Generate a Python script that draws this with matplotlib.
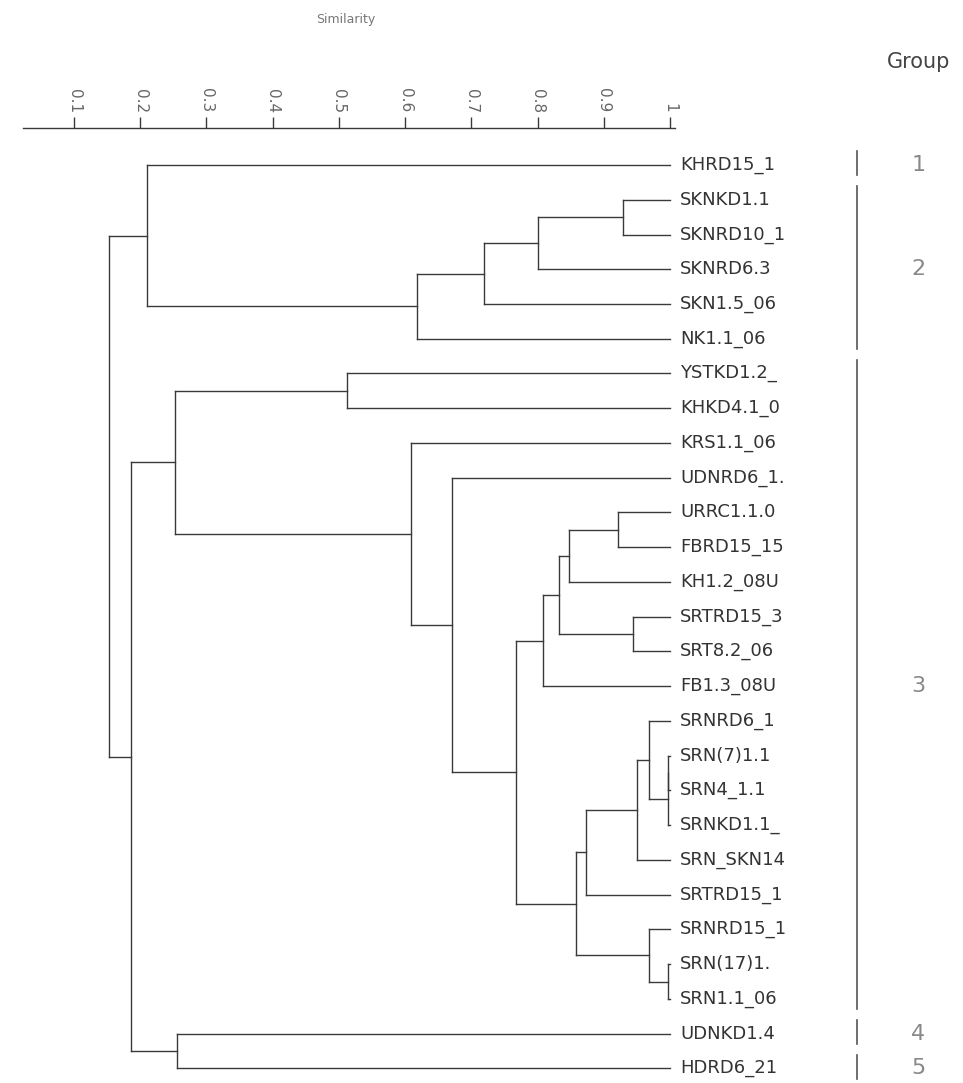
import matplotlib
matplotlib.use("Agg")
import matplotlib.pyplot as plt

# leaves, top to bottom
leaves = ["KHRD15_1", "SKNKD1.1", "SKNRD10_1", "SKNRD6.3", "SKN1.5_06", "NK1.1_06",
          "YSTKD1.2_", "KHKD4.1_0", "KRS1.1_06", "UDNRD6_1.", "URRC1.1.0", "FBRD15_15",
          "KH1.2_08U", "SRTRD15_3", "SRT8.2_06", "FB1.3_08U", "SRNRD6_1", "SRN(7)1.1",
          "SRN4_1.1", "SRNKD1.1_", "SRN_SKN14", "SRTRD15_1", "SRNRD15_1", "SRN(17)1.",
          "SRN1.1_06", "UDNKD1.4", "HDRD6_21"]

# merges: new node, left child, right child, similarity
merge_node = ["A", "B", "C", "D", "E", "F", "N", "M", "O", "L", "J", "R1", "R", "S",
              "Q", "P", "U", "T", "K", "I", "H", "G", "G3", "G45", "V", "root"]
merge_left = ["SKNKD1.1", "A", "B", "C", "KHRD15_1", "YSTKD1.2_", "URRC1.1.0", "N",
              "SRTRD15_3", "M", "L", "SRN(7)1.1", "R1", "SRNRD6_1", "S", "Q",
              "SRN(17)1.", "SRNRD15_1", "P", "J", "UDNRD6_1.", "KRS1.1_06", "F",
              "UDNKD1.4", "G3", "E"]
merge_right = ["SKNRD10_1", "SKNRD6.3", "SKN1.5_06", "NK1.1_06", "D", "KHKD4.1_0",
               "FBRD15_15", "KH1.2_08U", "SRT8.2_06", "O", "FB1.3_08U", "SRN4_1.1",
               "SRNKD1.1_", "R", "SRN_SKN14", "SRTRD15_1", "SRN1.1_06", "U", "T", "K",
               "I", "H", "G", "HDRD6_21", "G45", "V"]
merge_sim = [0.929, 0.801, 0.719, 0.618, 0.210, 0.512, 0.922, 0.848, 0.944, 0.833,
             0.808, 0.997, 0.997, 0.969, 0.950, 0.873, 0.997, 0.969, 0.858, 0.768,
             0.671, 0.609, 0.253, 0.256, 0.186, 0.153]

group_names = ["1", "2", "3", "4", "5"]
group_first = [0, 1, 6, 25, 26]
group_last = [0, 5, 24, 25, 26]

ticks = [0.1, 0.2, 0.3, 0.4, 0.5, 0.6, 0.7, 0.8, 0.9, 1]
tick_labels = ["0.1", "0.2", "0.3", "0.4", "0.5", "0.6", "0.7", "0.8", "0.9", "1"]

line_col = "#3a3a3a"

fig = plt.figure(figsize=(9.63, 10.83), dpi=100)
ax = fig.add_axes([0.0239, 0.0, 0.677, 0.8818])

# dendrogram
pos = {name: (i, 1.0) for i, name in enumerate(leaves)}
for node, left, right, sim in zip(merge_node, merge_left, merge_right, merge_sim):
    y1, x1 = pos[left]
    y2, x2 = pos[right]
    ax.plot([x1, sim], [y1, y1], color=line_col, lw=1.0)
    ax.plot([x2, sim], [y2, y2], color=line_col, lw=1.0)
    ax.plot([sim, sim], [y1, y2], color=line_col, lw=1.0)
    pos[node] = ((y1 + y2) / 2, sim)

# leaf labels
for i, name in enumerate(leaves):
    ax.text(1.0154, i, name, ha="left", va="center", fontsize=13, color="#333333",
            clip_on=False)

# group bars and numbers
for g, a, b in zip(group_names, group_first, group_last):
    ax.plot([1.2828, 1.2828], [a - 0.4, b + 0.3], color="#555555", lw=1.2, clip_on=False)
    ax.text(1.375, (a + b) / 2, g, ha="center", va="center", fontsize=16,
            color="#888888", clip_on=False)

fig.text(919 / 963, 1 - 62 / 1083, "Group", ha="center", va="center", fontsize=15,
         color="#444444")

ax.set_xlim(0.023, 1.0076)
ax.set_ylim(26.42, -1.065)
ax.xaxis.tick_top()
ax.set_xticks(ticks)
ax.set_xticklabels(tick_labels, rotation=270, fontsize=11, color="#666666")
ax.tick_params(axis="x", length=8, width=1.0, color=line_col, pad=3)
ax.set_yticks([])
for side in ["left", "right", "bottom"]:
    ax.spines[side].set_visible(False)
ax.spines["top"].set_color(line_col)
ax.spines["top"].set_linewidth(1.0)

fig.text(346 / 963, 1 - 20 / 1083, "Similarity", ha="center", va="center", fontsize=9,
         color="#777777")

fig.savefig("out.png", dpi=100)
